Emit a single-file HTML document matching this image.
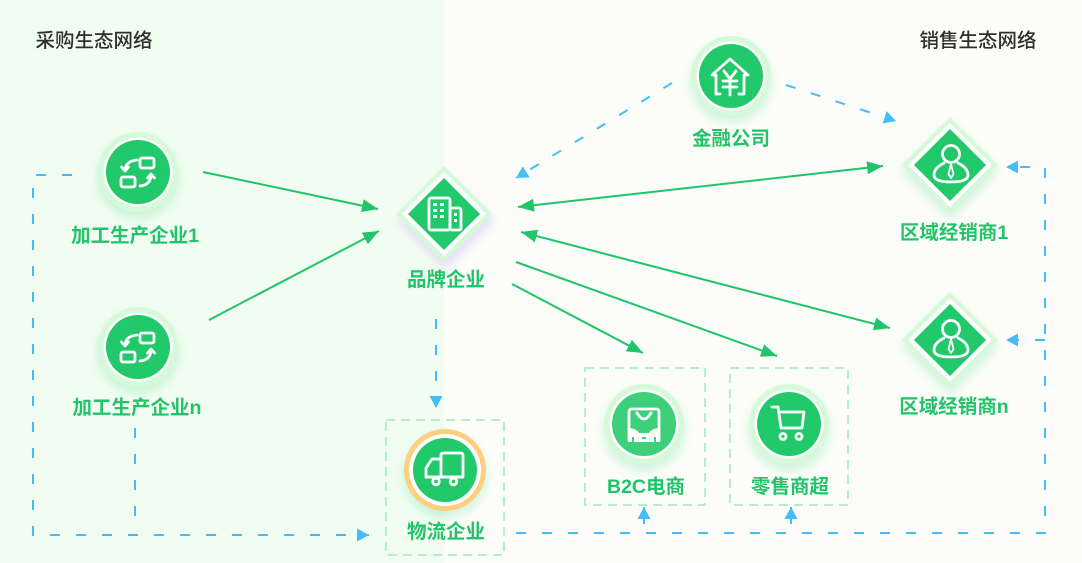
<!DOCTYPE html>
<html><head><meta charset="utf-8">
<style>
html,body{margin:0;padding:0;width:1082px;height:563px;overflow:hidden;background:#fcfdf8;}
svg{display:block}
text{font-family:"Liberation Sans","Noto Sans CJK SC",sans-serif;}
.lbl{fill:#22c36a;font-size:19.5px;font-weight:bold;text-anchor:middle;dominant-baseline:central;}
.ttl{fill:#2e2e2e;font-size:19.5px;font-weight:500;text-anchor:middle;dominant-baseline:central;}
.ic{fill:none;stroke:#fff;stroke-width:2.8;stroke-linecap:round;stroke-linejoin:round;}
</style></head>
<body>
<svg width="1082" height="563" viewBox="0 0 1082 563" xmlns="http://www.w3.org/2000/svg">
<defs>
  <marker id="ga" markerUnits="userSpaceOnUse" markerWidth="17" markerHeight="13" refX="16" refY="6.5" orient="auto-start-reverse">
    <path d="M0,0 L16,6.5 L0,13 z" fill="#21c46b"/>
  </marker>
  <marker id="ba" markerUnits="userSpaceOnUse" markerWidth="13" markerHeight="13" refX="12" refY="6.5" orient="auto-start-reverse">
    <path d="M0,0 L12,6.5 L0,13 z" fill="#45bdfb"/>
  </marker>
  <filter id="sh" x="-50%" y="-50%" width="200%" height="220%">
    <feDropShadow dx="0" dy="6" stdDeviation="5" flood-color="#2ccf72" flood-opacity="0.22"/>
  </filter>
  <filter id="shp" x="-50%" y="-50%" width="200%" height="220%">
    <feDropShadow dx="2" dy="7" stdDeviation="5" flood-color="#a98bf0" flood-opacity="0.28"/>
  </filter>
</defs>

<!-- backgrounds -->
<rect x="0" y="0" width="1082" height="563" fill="#fcfdf8"/>
<rect x="0" y="0" width="444" height="563" fill="#f2fdf1"/>

<!-- titles -->
<text class="ttl" x="94" y="41">采购生态网络</text>
<text class="ttl" x="978" y="41">销售生态网络</text>

<!-- dashed boxes -->
<g fill="none" stroke="#b3efca" stroke-width="2" stroke-dasharray="9 6">
  <rect x="386" y="420" width="118" height="135"/>
  <rect x="585" y="368" width="120" height="137"/>
  <rect x="730" y="368" width="118" height="137"/>
</g>

<!-- blue dashed connectors -->
<g fill="none" stroke="#45bdfb" stroke-width="2" stroke-dasharray="10 16">
  <path d="M72 175 H33 V535 H369" marker-end="url(#ba)"/>
  <path d="M135 428 V520"/>
  <path d="M436 319 V408" marker-end="url(#ba)"/>
  <path d="M672 83 L516 178" marker-end="url(#ba)"/>
  <path d="M786 85 L896 121" marker-end="url(#ba)"/>
  <path d="M516 533 H1045 V167 H1006" marker-end="url(#ba)"/>
  <path d="M1045 340 H1006" marker-end="url(#ba)"/>
</g>
<g fill="none" stroke="#45bdfb" stroke-width="2">
  <path d="M644 524 V507" marker-end="url(#ba)"/>
  <path d="M791 524 V507" marker-end="url(#ba)"/>
</g>

<!-- green connectors -->
<g fill="none" stroke="#21c46b" stroke-width="2">
  <path d="M203 172 L378 209" marker-end="url(#ga)"/>
  <path d="M209 320 L379 231" marker-end="url(#ga)"/>
  <path d="M518 207 L883 166" marker-start="url(#ga)" marker-end="url(#ga)"/>
  <path d="M521 232 L890 328" marker-start="url(#ga)" marker-end="url(#ga)"/>
  <path d="M516 262 L777 356" marker-end="url(#ga)"/>
  <path d="M512 284 L643 353" marker-end="url(#ga)"/>
</g>

<!-- circle nodes -->
<g>
  <g filter="url(#sh)">
    <circle cx="138" cy="172" r="40" fill="#d6f9da"/>
    <circle cx="138" cy="172" r="34.5" fill="#fff"/>
    <circle cx="138" cy="172" r="32" fill="#20c96b"/>
  </g>
  <g class="ic" transform="translate(138,172)">
    <rect x="2" y="-14" width="14" height="10" rx="2"/>
    <rect x="-17" y="5" width="14" height="10" rx="2"/>
    <path d="M-1 -12 Q-12 -11 -13 -2"/>
    <path d="M-16.5 -5 L-13 -1 L-9.5 -5"/>
    <path d="M2 14 Q12 13 13 4"/>
    <path d="M9.5 6 L13 2 L16.5 6"/>
  </g>

  <g filter="url(#sh)">
    <circle cx="138" cy="347" r="40" fill="#d6f9da"/>
    <circle cx="138" cy="347" r="34.5" fill="#fff"/>
    <circle cx="138" cy="347" r="32" fill="#20c96b"/>
  </g>
  <g class="ic" transform="translate(138,347)">
    <rect x="2" y="-14" width="14" height="10" rx="2"/>
    <rect x="-17" y="5" width="14" height="10" rx="2"/>
    <path d="M-1 -12 Q-12 -11 -13 -2"/>
    <path d="M-16.5 -5 L-13 -1 L-9.5 -5"/>
    <path d="M2 14 Q12 13 13 4"/>
    <path d="M9.5 6 L13 2 L16.5 6"/>
  </g>

  <g filter="url(#sh)">
    <circle cx="731" cy="76" r="40" fill="#d6f9da"/>
    <circle cx="731" cy="76" r="34.5" fill="#fff"/>
    <circle cx="731" cy="76" r="32" fill="#20c96b"/>
  </g>
  <g class="ic">
    <path d="M720 94 H716 V75 H712 L730 59 L748 75 H744 V94 H739"/>
    <path d="M724 71 L730 79 L736 71"/>
    <path d="M723 81 H737 M723 87 H737 M730 79 V95"/>
  </g>

  <g filter="url(#sh)">
    <circle cx="445" cy="470" r="41" fill="#fdcf7e"/>
    <circle cx="445" cy="470" r="36" fill="#fff"/>
    <circle cx="445" cy="470" r="32" fill="#20c96b"/>
  </g>
  <g class="ic">
    <rect x="441" y="453" width="22" height="24" rx="2"/>
    <path d="M441 459 H432 L426 468 V477 H441"/>
    <path d="M426 477 H463"/>
    <circle cx="436" cy="481.5" r="3.3" fill="#20c96b"/>
    <circle cx="453.5" cy="481.5" r="3.3" fill="#20c96b"/>
  </g>

  <g filter="url(#sh)">
    <circle cx="644" cy="424" r="40" fill="#d6f9da"/>
    <circle cx="644" cy="424" r="34.5" fill="#fff"/>
    <circle cx="644" cy="424" r="32" fill="#3ccf7a"/>
  </g>
  <g>
    <path class="ic" d="M629 440 V412 Q629 409 632 409 H656 Q659 409 659 412 V440"/>
    <path class="ic" d="M637 413 Q644 425 651 413"/>
    <path d="M628 428 Q636 428 639 433 H649 Q652 428 660 428 V442 H656 V437 H654 V442 H634 V437 H632 V442 H628 Z" fill="#fff"/>
    <rect x="642" y="437" width="4" height="2" fill="#3ccf7a"/>
  </g>

  <g filter="url(#sh)">
    <circle cx="789" cy="424" r="40" fill="#d6f9da"/>
    <circle cx="789" cy="424" r="34.5" fill="#fff"/>
    <circle cx="789" cy="424" r="32" fill="#20c96b"/>
  </g>
  <g class="ic">
    <path d="M772 407 H778 L781 428 H802 L804 412 H779"/>
    <circle cx="783" cy="436.5" r="3"/>
    <circle cx="799" cy="436.5" r="3"/>
  </g>
</g>

<!-- diamond nodes -->
<g>
  <g filter="url(#shp)">
    <rect x="-34" y="-34" width="68" height="68" fill="#d6f9da" transform="translate(444,214) rotate(45)"/>
    <rect x="-29.7" y="-29.7" width="59.4" height="59.4" fill="#fff" transform="translate(444,214) rotate(45)"/>
    <rect x="-25.5" y="-25.5" width="51" height="51" fill="#20c96b" transform="translate(444,214) rotate(45)"/>
  </g>
  <g>
    <rect class="ic" x="429" y="198" width="21" height="32" rx="2"/>
    <rect class="ic" x="450" y="208" width="11" height="22" rx="2"/>
    <g fill="#fff">
      <rect x="433" y="203" width="4" height="3"/><rect x="440" y="203" width="4" height="3"/>
      <rect x="433" y="209" width="4" height="3"/><rect x="440" y="209" width="4" height="3"/>
      <rect x="433" y="215" width="4" height="3"/><rect x="440" y="215" width="4" height="3"/>
      <rect x="454" y="213" width="3" height="3"/><rect x="454" y="219" width="3" height="3"/>
    </g>
  </g>

  <g filter="url(#sh)">
    <rect x="-34" y="-34" width="68" height="68" fill="#d6f9da" transform="translate(950,165) rotate(45)"/>
    <rect x="-29.7" y="-29.7" width="59.4" height="59.4" fill="#fff" transform="translate(950,165) rotate(45)"/>
    <rect x="-25.5" y="-25.5" width="51" height="51" fill="#20c96b" transform="translate(950,165) rotate(45)"/>
  </g>
  <g class="ic" transform="translate(950,165)">
    <circle cx="1" cy="-11" r="8.5"/>
    <path d="M-6 -2 Q-16 3 -16 10 Q-16 17 1 17 Q18 17 18 10 Q18 3 8 -2"/>
    <path d="M1 -1 L-1.5 9 L1 13 L3.5 9 Z" stroke-width="1.8"/>
  </g>

  <g filter="url(#sh)">
    <rect x="-34" y="-34" width="68" height="68" fill="#d6f9da" transform="translate(950,340) rotate(45)"/>
    <rect x="-29.7" y="-29.7" width="59.4" height="59.4" fill="#fff" transform="translate(950,340) rotate(45)"/>
    <rect x="-25.5" y="-25.5" width="51" height="51" fill="#20c96b" transform="translate(950,340) rotate(45)"/>
  </g>
  <g class="ic" transform="translate(950,340)">
    <circle cx="1" cy="-11" r="8.5"/>
    <path d="M-6 -2 Q-16 3 -16 10 Q-16 17 1 17 Q18 17 18 10 Q18 3 8 -2"/>
    <path d="M1 -1 L-1.5 9 L1 13 L3.5 9 Z" stroke-width="1.8"/>
  </g>
</g>

<!-- labels -->
<text class="lbl" x="135" y="236">加工生产企业1</text>
<text class="lbl" x="137" y="408">加工生产企业n</text>
<text class="lbl" x="446" y="280">品牌企业</text>
<text class="lbl" x="731" y="139">金融公司</text>
<text class="lbl" x="446" y="532">物流企业</text>
<text class="lbl" x="646" y="487">B2C电商</text>
<text class="lbl" x="790" y="487">零售商超</text>
<text class="lbl" x="954" y="233">区域经销商1</text>
<text class="lbl" x="954" y="407">区域经销商n</text>
</svg>
</body></html>
